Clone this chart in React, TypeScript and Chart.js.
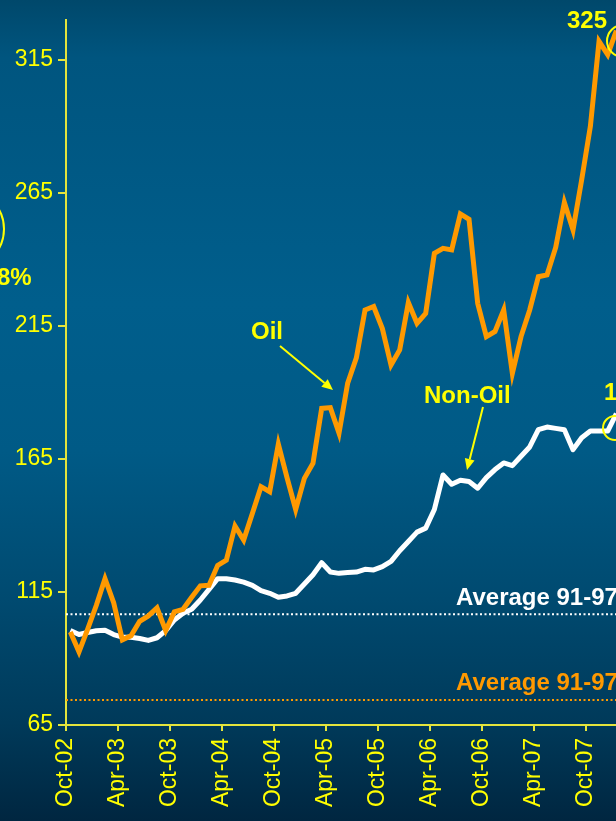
import React, { useEffect, useRef } from 'react';
import { Chart, registerables } from 'chart.js';

Chart.register(...registerables);

// Monthly categories (Oct-02 .. Jan-08)
const months = [
  'Oct-02', 'Nov-02', 'Dec-02', 'Jan-03', 'Feb-03', 'Mar-03', 'Apr-03', 'May-03', 'Jun-03', 'Jul-03', 'Aug-03', 'Sep-03',
  'Oct-03', 'Nov-03', 'Dec-03', 'Jan-04', 'Feb-04', 'Mar-04', 'Apr-04', 'May-04', 'Jun-04', 'Jul-04', 'Aug-04', 'Sep-04',
  'Oct-04', 'Nov-04', 'Dec-04', 'Jan-05', 'Feb-05', 'Mar-05', 'Apr-05', 'May-05', 'Jun-05', 'Jul-05', 'Aug-05', 'Sep-05',
  'Oct-05', 'Nov-05', 'Dec-05', 'Jan-06', 'Feb-06', 'Mar-06', 'Apr-06', 'May-06', 'Jun-06', 'Jul-06', 'Aug-06', 'Sep-06',
  'Oct-06', 'Nov-06', 'Dec-06', 'Jan-07', 'Feb-07', 'Mar-07', 'Apr-07', 'May-07', 'Jun-07', 'Jul-07', 'Aug-07', 'Sep-07',
  'Oct-07', 'Nov-07', 'Dec-07', 'Jan-08',
];

const oilValues = [
  100, 92.5, 101, 110, 120, 111, 97, 98.5, 104, 106, 109, 100.5,
  107.5, 108.5, 113, 117.3, 117.5, 125, 127, 139.8, 134.5, 144.5, 154.6, 152.7,
  170.6, 158, 146, 157.7, 163.4, 184, 184.3, 174.7, 193.5, 203, 221, 222.3,
  214, 200.3, 206, 223.8, 216, 219.7, 242.3, 244.2, 243.6, 257.1, 255.1, 223.5,
  211, 212.9, 221, 197.2, 211, 221, 233.5, 234.2, 244.5, 261.4, 251.1, 270,
  290, 322, 317, 326,
];

const nonOilValues = [
  100.5, 99, 99.8, 100.4, 100.6, 99, 98, 98, 97.5, 96.8, 97.8, 100.5,
  104.5, 107, 108.5, 112, 116, 120, 120, 119.5, 118.7, 117.5, 115.5, 114.5,
  113, 113.5, 114.5, 118, 121.5, 126, 122.5, 122, 122.3, 122.5, 123.5, 123.3,
  124.5, 126.5, 130.5, 134, 137.5, 139, 146, 159, 155.5, 157, 156.5, 154,
  158, 161, 163.5, 162.5, 166, 169.5, 176, 177, 176.5, 176, 168.5, 173,
  175.5, 175.5, 175.5, 182,
];

const avgNonOil = 106.6;
const avgOil = 74.4;

const xTickLabels = ['Oct-02', 'Apr-03', 'Oct-03', 'Apr-04', 'Oct-04', 'Apr-05', 'Oct-05', 'Apr-06', 'Oct-06', 'Apr-07', 'Oct-07'];
const yTicks = [65, 115, 165, 215, 265, 315];

const FONT = '"Liberation Sans", Arial, sans-serif';
const AXIS = '#e4e43c';
const YELLOW = '#ffff00';
const ORANGE = '#ff9900';

const annotations = {
  id: 'annotations',
  afterDraw(chart: any) {
    const ctx = chart.ctx;
    ctx.save();
    ctx.font = `bold 24px ${FONT}`;
    ctx.textBaseline = 'alphabetic';
    ctx.textAlign = 'left';
    const text = (s: string, x: number, y: number, c: string) => {
      ctx.fillStyle = c;
      ctx.fillText(s, x, y);
    };
    text('Oil', 251, 339, YELLOW);
    text('Non-Oil', 424, 403, YELLOW);
    text('Average 91-97', 456, 605, '#ffffff');
    text('Average 91-97', 456, 690, ORANGE);
    text('325', 567, 28, YELLOW);
    text('18', 604, 400, YELLOW);
    text('8%', -3, 285, YELLOW);

    const arrow = (x1: number, y1: number, x2: number, y2: number) => {
      const ang = Math.atan2(y2 - y1, x2 - x1);
      const hl = 11, hw = 5;
      const bx = x2 - hl * Math.cos(ang), by = y2 - hl * Math.sin(ang);
      ctx.strokeStyle = YELLOW;
      ctx.lineWidth = 2;
      ctx.beginPath();
      ctx.moveTo(x1, y1);
      ctx.lineTo(bx, by);
      ctx.stroke();
      ctx.fillStyle = YELLOW;
      ctx.beginPath();
      ctx.moveTo(x2, y2);
      ctx.lineTo(bx + hw * Math.sin(ang), by - hw * Math.cos(ang));
      ctx.lineTo(bx - hw * Math.sin(ang), by + hw * Math.cos(ang));
      ctx.closePath();
      ctx.fill();
    };
    arrow(280, 346, 333, 390);
    arrow(483, 407, 467, 470);

    const circle = (cx: number, cy: number, r: number) => {
      ctx.strokeStyle = YELLOW;
      ctx.lineWidth = 2;
      ctx.beginPath();
      ctx.arc(cx, cy, r, 0, Math.PI * 2);
      ctx.stroke();
    };
    circle(623, 41, 16);
    circle(615, 428, 12);
    circle(-36, 229, 40);
    ctx.restore();
  },
};

export default function App() {
  const ref = useRef<HTMLCanvasElement>(null);

  useEffect(() => {
    if (!ref.current) return;
    const first = -0.5;
    const last = months.length - 0.5;
    const xTickPos = xTickLabels.map((l) => months.indexOf(l) - 0.5);
    const chart = new Chart(ref.current, {
      type: 'line',
      data: {
        datasets: [
          {
            label: 'Oil',
            data: oilValues.map((v, i) => ({ x: i, y: v })),
            borderColor: ORANGE,
            borderWidth: 5,
            borderJoinStyle: 'miter',
            pointRadius: 0,
            tension: 0,
            order: 0,
          },
          {
            label: 'Non-Oil',
            data: nonOilValues.map((v, i) => ({ x: i, y: v })),
            borderColor: '#ffffff',
            borderWidth: 5,
            borderJoinStyle: 'round',
            pointRadius: 0,
            tension: 0,
            order: 1,
          },
          {
            label: 'Average Non-Oil',
            data: [{ x: first, y: avgNonOil }, { x: last, y: avgNonOil }],
            borderColor: '#ffffff',
            borderWidth: 2,
            borderDash: [2, 2.5],
            pointRadius: 0,
            order: 2,
          },
          {
            label: 'Average Oil',
            data: [{ x: first, y: avgOil }, { x: last, y: avgOil }],
            borderColor: ORANGE,
            borderWidth: 2,
            borderDash: [2, 2.5],
            pointRadius: 0,
            order: 3,
          },
        ],
      },
      options: {
        responsive: false,
        animation: false,
        devicePixelRatio: 1,
        layout: { padding: { top: 20, right: 19.3, left: 0, bottom: 0 } },
        plugins: { legend: { display: false }, tooltip: { enabled: false } },
        scales: {
          x: {
            type: 'linear',
            min: first,
            max: last,
            afterFit(s: any) { s.height = 96; },
            afterBuildTicks(s: any) { s.ticks = xTickPos.map((v) => ({ value: v })); },
            ticks: {
              autoSkip: false,
              minRotation: 90,
              maxRotation: 90,
              padding: 7,
              color: YELLOW,
              font: { family: FONT, size: 23 },
              callback: (_v: any, i: number) => xTickLabels[i],
            },
            grid: { drawOnChartArea: false, drawTicks: true, tickLength: 6, color: AXIS, lineWidth: 2 },
            border: { display: true, color: AXIS, width: 2 },
          },
          y: {
            min: 65,
            max: 330,
            afterFit(s: any) { s.width = 66; },
            afterBuildTicks(s: any) { s.ticks = yTicks.map((v) => ({ value: v })); },
            ticks: {
              padding: 5,
              color: YELLOW,
              font: { family: FONT, size: 23 },
              callback: (v: any) => String(v),
            },
            grid: { drawOnChartArea: false, drawTicks: true, tickLength: 8, color: AXIS, lineWidth: 2 },
            border: { display: true, color: AXIS, width: 2 },
          },
        },
      },
      plugins: [annotations],
    } as any);
    return () => chart.destroy();
  }, []);

  return (
    <div
      style={{
        position: 'absolute',
        left: 0,
        top: 0,
        width: 616,
        height: 821,
        overflow: 'hidden',
        background:
          'linear-gradient(to bottom, #00486b 0%, #00557f 7%, #005e8c 37%, #005a86 55%, #004a70 73%, #003a5a 88%, #002640 100%)',
      }}
    >
      <canvas ref={ref} width={640} height={821} style={{ display: 'block' }} />
    </div>
  );
}
